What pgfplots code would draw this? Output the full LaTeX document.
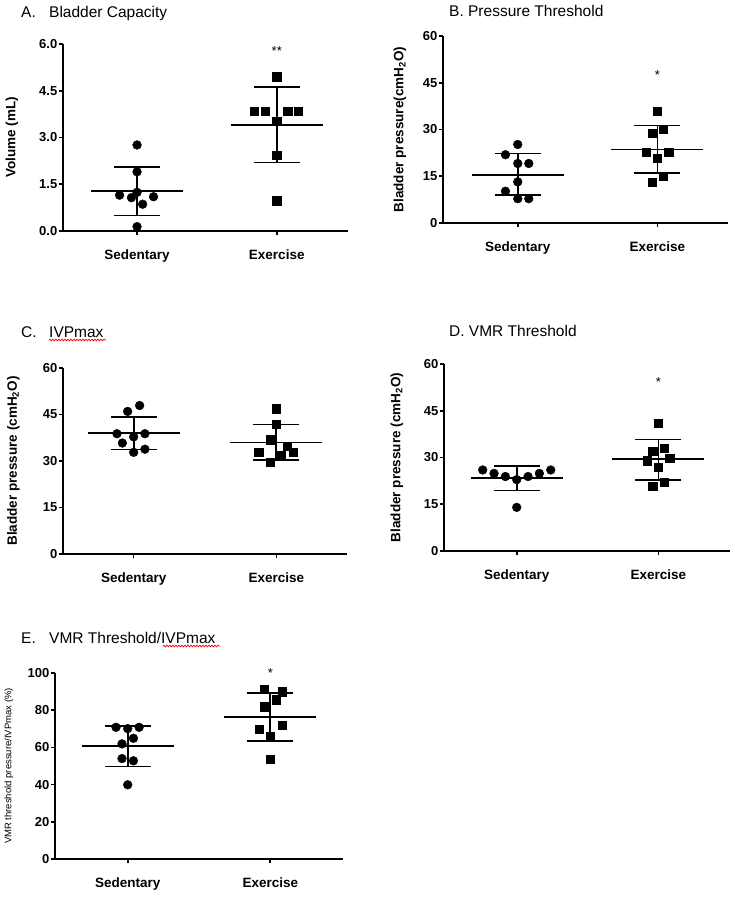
\documentclass[border=0pt]{standalone}
\usepackage{fontspec}
\setmainfont{Liberation Sans}
\usepackage{pgfplots}
\pgfplotsset{compat=1.18}
\usetikzlibrary{decorations.pathmorphing}

\newcommand\tickfont{\fontsize{13}{15}\selectfont\bfseries}
\newcommand\titlefont{\fontsize{15.5}{18}\selectfont}

\pgfplotsset{
  dotplot/.style={
    scale only axis, width=285pt, height=187pt,
    axis lines*=left, axis line style={line width=2pt},
    ymin=0, clip=false,
    xtick={0,1}, xticklabels={Sedentary,Exercise},
    tick align=outside, major tick length=4pt,
    tick style={line width=1.6pt, black},
    xticklabel style={font=\fontsize{13.5}{15}\selectfont\bfseries, yshift=-11pt},
    yticklabel style={font=\tickfont, inner sep=1.5pt},
    ylabel style={font=\fontsize{13.5}{15}\selectfont\bfseries, anchor=center},
  },
  sed/.style={only marks, mark=*, mark size=4.4pt, black},
  exe/.style={only marks, mark=square*, mark size=4.1pt, black},
  meanline/.style={only marks, mark=-, mark size=46pt, mark options={line width=1.8pt}, black},
  sdcap/.style={only marks, mark=-, mark size=23pt, mark options={line width=1.8pt}, black},
  sdbar/.style={line width=1.8pt, black, mark=none},
}

\begin{document}
\begin{tikzpicture}
\useasboundingbox (0,0) rectangle (734pt,-900pt);

% ---------- titles
\node[anchor=base west, inner sep=0, font=\titlefont] at (21pt,-17pt) {A.};
\node[anchor=base west, inner sep=0, font=\titlefont] at (49pt,-17pt) {Bladder Capacity};
\node[anchor=base west, inner sep=0, font=\titlefont] at (449pt,-16pt) {B. Pressure Threshold};
\node[anchor=base west, inner sep=0, font=\titlefont] at (21pt,-337pt) {C.};
\node[anchor=base west, inner sep=0, font=\titlefont] at (49pt,-337pt) {IVPmax};
\node[anchor=base west, inner sep=0, font=\titlefont] at (449pt,-336pt) {D. VMR Threshold};
\node[anchor=base west, inner sep=0, font=\titlefont] at (21pt,-643pt) {E.};
\node[anchor=base west, inner sep=0, font=\titlefont] at (49pt,-643pt) {VMR Threshold/IVPmax};
\draw[red, line width=0.7pt, decorate, decoration={snake, amplitude=0.9pt, segment length=3pt}] (49pt,-340pt) -- (106pt,-340pt);
\draw[red, line width=0.7pt, decorate, decoration={snake, amplitude=0.9pt, segment length=3pt}] (163pt,-646pt) -- (220pt,-646pt);

% ---------- A. Bladder capacity
\begin{axis}[dotplot, at={(63pt,-231pt)}, anchor=south west,
  xmin=-0.53, xmax=1.51, ymax=6,
  ytick={0,1.5,3,4.5,6}, yticklabels={0.0,1.5,3.0,4.5,6.0},
  ylabel={Volume (mL)}, ylabel style={at={(axis description cs:-0.179,0.5)}}]
\addplot[sed] coordinates {(0,2.76) (0,1.90) (0,1.24) (-0.125,1.15) (-0.04,1.07) (0.04,0.86) (0.118,1.10) (0,0.14)};
\addplot[exe] coordinates {(1,4.95) (0.84,3.85) (0.917,3.85) (1.079,3.85) (1.155,3.85) (1,3.53) (1,2.42) (1,0.97)};
\addplot[meanline] coordinates {(0,1.28) (1,3.40)};
\addplot[sdcap] coordinates {(0,0.50) (0,2.05) (1,2.20) (1,4.61)};
\addplot[sdbar] coordinates {(0,0.50) (0,2.05)};
\addplot[sdbar] coordinates {(1,2.20) (1,4.61)};
\node[font=\fontsize{13}{15}\selectfont] at (axis cs:1,5.76) {**};
\end{axis}

% ---------- B. Pressure threshold
\begin{axis}[dotplot, at={(443pt,-223pt)}, anchor=south west,
  xmin=-0.535, xmax=1.505, ymax=60,
  ytick={0,15,30,45,60}, yticklabels={0,15,30,45,60},
  ylabel={Bladder pressure(cmH\textsubscript{2}O)}, ylabel style={at={(axis description cs:-0.151,0.5)}}]
\addplot[sed] coordinates {(0,25.2) (-0.088,21.9) (0,19.1) (0.079,19.1) (0,13.2) (-0.088,10.2) (0,7.8) (0.079,7.8)};
\addplot[exe] coordinates {(1,35.9) (0.964,28.9) (1.04,30.0) (0.921,22.8) (1.081,22.8) (1,20.7) (0.964,13.2) (1.04,15.0)};
\addplot[meanline] coordinates {(0,15.5) (1,23.6)};
\addplot[sdcap] coordinates {(0,8.9) (0,22.3) (1,16.0) (1,31.3)};
\addplot[sdbar] coordinates {(0,8.9) (0,22.3)};
\addplot[sdbar] coordinates {(1,16.0) (1,31.3)};
\node[font=\fontsize{13}{15}\selectfont] at (axis cs:1,47.4) {*};
\end{axis}

% ---------- C. IVPmax
\begin{axis}[dotplot, at={(63pt,-554pt)}, anchor=south west, width=284pt, height=186pt,
  xmin=-0.495, xmax=1.495, ymax=60,
  ytick={0,15,30,45,60}, yticklabels={0,15,30,45,60},
  ylabel={Bladder pressure (cmH\textsubscript{2}O)}, ylabel style={at={(axis description cs:-0.175,0.5)}}]
\addplot[sed] coordinates {(0.042,47.9) (-0.042,46.0) (-0.117,38.8) (0.079,38.8) (0,37.8) (-0.079,35.8) (0,32.8) (0.079,33.8)};
\addplot[exe] coordinates {(1,46.9) (1,41.8) (0.958,36.9) (0.876,32.8) (0.958,29.7) (1.035,31.7) (1.075,34.8) (1.117,32.8)};
\addplot[meanline] coordinates {(0,39.1) (1,36.0)};
\addplot[sdcap] coordinates {(0,33.7) (0,44.3) (1,30.3) (1,41.8)};
\addplot[sdbar] coordinates {(0,33.7) (0,44.3)};
\addplot[sdbar] coordinates {(1,30.3) (1,41.8)};
\end{axis}

% ---------- D. VMR threshold
\begin{axis}[dotplot, at={(444pt,-551pt)}, anchor=south west, width=286pt,
  xmin=-0.513, xmax=1.505, ymax=60,
  ytick={0,15,30,45,60}, yticklabels={0,15,30,45,60},
  ylabel={Bladder pressure (cmH\textsubscript{2}O)}, ylabel style={at={(axis description cs:-0.165,0.5)}}]
\addplot[sed] coordinates {(-0.24,26.0) (-0.16,24.9) (-0.08,23.9) (0,22.9) (0.08,23.9) (0.16,24.9) (0.24,26.0) (0,14.0)};
\addplot[exe] coordinates {(1,41.0) (0.96,32.0) (1.04,32.9) (0.92,29.0) (1.08,29.9) (1,27.0) (0.96,20.9) (1.04,22.0)};
\addplot[meanline] coordinates {(0,23.3) (1,29.4)};
\addplot[sdcap] coordinates {(0,19.4) (0,27.3) (1,22.9) (1,35.8)};
\addplot[sdbar] coordinates {(0,19.4) (0,27.3)};
\addplot[sdbar] coordinates {(1,22.9) (1,35.8)};
\node[font=\fontsize{13}{15}\selectfont] at (axis cs:1,54.2) {*};
\end{axis}

% ---------- E. VMR threshold / IVPmax
\begin{axis}[dotplot, at={(55pt,-859pt)}, anchor=south west, width=288pt, height=186pt,
  xmin=-0.51, xmax=1.51, ymax=100,
  ytick={0,20,40,60,80,100}, yticklabels={0,20,40,60,80,100},
  ylabel={VMR threshold pressure/IVPmax (\%)},
  ylabel style={at={(axis description cs:-0.16,0.5)}, font=\fontsize{9.5}{11}\selectfont}]
\addplot[sed] coordinates {(-0.082,70.8) (0,70.1) (0.08,70.8) (0.04,64.9) (-0.04,61.9) (-0.04,54.0) (0.04,52.8) (0,39.9)};
\addplot[exe] coordinates {(0.96,91.1) (1.082,90.0) (1.042,85.7) (0.96,81.9) (0.92,69.9) (1.082,71.9) (1,65.8) (1,53.8)};
\addplot[meanline] coordinates {(0,60.6) (1,76.4)};
\addplot[sdcap] coordinates {(0,49.7) (0,71.7) (1,63.3) (1,89.4)};
\addplot[sdbar] coordinates {(0,49.7) (0,71.7)};
\addplot[sdbar] coordinates {(1,63.3) (1,89.4)};
\node[font=\fontsize{13}{15}\selectfont] at (axis cs:1,100.2) {*};
\end{axis}
\end{tikzpicture}
\end{document}
